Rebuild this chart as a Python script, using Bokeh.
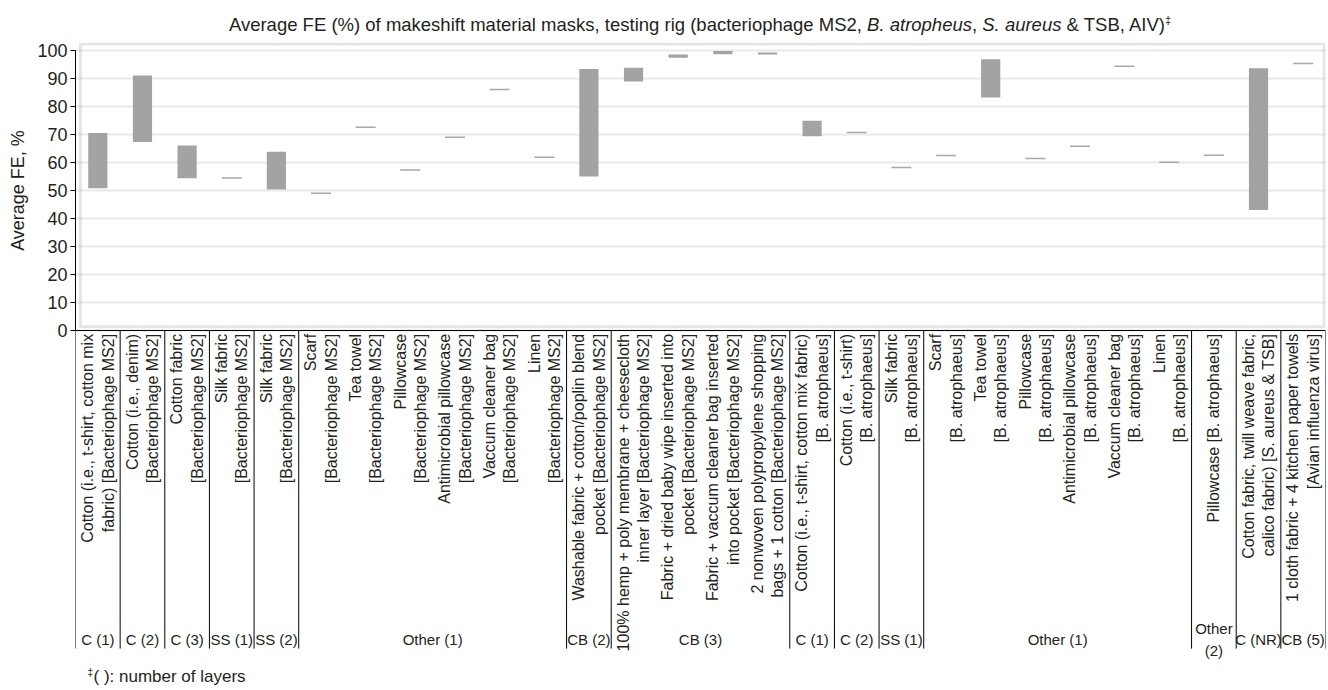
import math
from bokeh.plotting import figure
from bokeh.models import (FixedTicker, BoxAnnotation, Span, Div, ColumnDataSource,
                          Range1d)
from bokeh.layouts import column, row
from bokeh.embed import file_html
from bokeh.resources import INLINE
from bokeh.core.properties import value

# ---------------- data ----------------
labels = [
    "Cotton (i.e., t-shirt, cotton mix\nfabric) [Bacteriophage MS2]",
    "Cotton (i.e., denim)\n[Bacteriophage MS2]",
    "Cotton fabric\n[Bacteriophage MS2]",
    "Silk fabric\n[Bacteriophage MS2]",
    "Silk fabric\n[Bacteriophage MS2]",
    "Scarf\n[Bacteriophage MS2]",
    "Tea towel\n[Bacteriophage MS2]",
    "Pillowcase\n[Bacteriophage MS2]",
    "Antimicrobial pillowcase\n[Bacteriophage MS2]",
    "Vaccum cleaner bag\n[Bacteriophage MS2]",
    "Linen\n[Bacteriophage MS2]",
    "Washable fabric + cotton/poplin blend\npocket [Bacteriophage MS2]",
    "100% hemp + poly membrane + cheesecloth\ninner layer [Bacteriophage MS2]",
    "Fabric + dried baby wipe inserted into\npocket [Bacteriophage MS2]",
    "Fabric + vaccum cleaner bag inserted\ninto pocket [Bacteriophage MS2]",
    "2 nonwoven polypropylene shopping\nbags + 1 cotton [Bacteriophage MS2]",
    "Cotton (i.e., t-shirt, cotton mix fabric)\n[B. atrophaeus]",
    "Cotton (i.e., t-shirt)\n[B. atrophaeus]",
    "Silk fabric\n[B. atrophaeus]",
    "Scarf\n[B. atrophaeus]",
    "Tea towel\n[B. atrophaeus]",
    "Pillowcase\n[B. atrophaeus]",
    "Antimicrobial pillowcase\n[B. atrophaeus]",
    "Vaccum cleaner bag\n[B. atrophaeus]",
    "Linen\n[B. atrophaeus]",
    "Pillowcase [B. atrophaeus]",
    "Cotton fabric, twill weave fabric,\ncalico fabric) [S. aureus & TSB]",
    "1 cloth fabric + 4 kitchen paper towels\n[Avian influenza virus]",
]
fe_low = [50.8, 67.3, 54.4, 54.5, 50.4, 49.0, 72.6, 57.3, 69.0, 86.1, 61.9,
          55.0, 88.9, 97.4, 98.7, 98.6, 69.4, 70.7, 58.2, 62.5, 83.2, 61.4,
          65.8, 94.4, 60.1, 62.6, 43.0, 95.4]
fe_high = [70.5, 91.1, 66.1, 54.5, 63.8, 49.0, 72.6, 57.3, 69.0, 86.1, 61.9,
           93.4, 93.8, 98.6, 99.8, 99.3, 74.9, 70.7, 58.2, 62.5, 96.9, 61.4,
           65.8, 94.4, 60.1, 62.6, 93.7, 95.4]
group_names = ["C (1)", "C (2)", "C (3)", "SS (1)", "SS (2)", "Other (1)",
               "CB (2)", "CB (3)", "C (1)", "C (2)", "SS (1)", "Other (1)",
               "Other\n(2)", "C (NR)", "CB (5)"]
group_sizes = [1, 1, 1, 1, 1, 6, 1, 4, 1, 1, 1, 6, 1, 1, 1]
y_ticks = [0, 10, 20, 30, 40, 50, 60, 70, 80, 90, 100]

title_html = ('Average FE (%) of makeshift material masks, testing rig '
              '(bacteriophage MS2, <i>B. atropheus</i>, <i>S. aureus</i> '
              '&amp; TSB, AIV)<sup style="font-size:11px">&#8225;</sup>')
footnote_mark = "\u2021"
footnote_text = "( ): number of layers"
y_label = "Average FE, %"

# ---------------- style ----------------
FONT = "Liberation Sans"
TXT = "#231f20"
BAR = "#a3a3a3"
n = len(labels)

cat_x = [i + 0.5 for i in range(n)]
bar_idx = [i for i in range(n) if fe_high[i] > fe_low[i]]
dot_idx = [i for i in range(n) if fe_high[i] == fe_low[i]]

bars = ColumnDataSource(dict(x=[cat_x[i] for i in bar_idx],
                             lo=[fe_low[i] for i in bar_idx],
                             hi=[fe_high[i] for i in bar_idx]))
dots = ColumnDataSource(dict(x=[cat_x[i] for i in dot_idx],
                             y=[fe_low[i] for i in dot_idx]))

bounds = [0]
for s in group_sizes:
    bounds.append(bounds[-1] + s)
group_x = [(bounds[k] + bounds[k + 1]) / 2 for k in range(len(group_sizes))]

TITLE_H = 36
H = 654
LABEL_W = 30
MAIN_W = 1296
yr = Range1d(-128.57, 102.86)

p = figure(width=MAIN_W, height=H, x_range=Range1d(0, n),
           y_range=yr, output_backend="svg",
           toolbar_location=None, x_axis_location=None, title=None,
           min_border_left=45, min_border_right=1, min_border_top=6,
           min_border_bottom=0)
p.outline_line_color = None
p.background_fill_color = "white"
p.xgrid.visible = False

yax = p.yaxis[0]
yax.ticker = FixedTicker(ticks=y_ticks)
yax.bounds = (0, 100)
yax.axis_line_color = "black"
yax.major_tick_line_color = "black"
yax.major_tick_out = 5
yax.major_tick_in = 0
yax.minor_tick_line_color = None
yax.major_label_text_font = FONT
yax.major_label_text_font_size = "18px"
yax.major_label_text_color = TXT
yax.major_label_standoff = 3
p.ygrid.grid_line_color = "#e9e9e9"
p.ygrid.grid_line_width = 2

p.add_layout(Span(location=0, dimension="width", line_color="black", line_width=1))

p.vbar(x="x", bottom="lo", top="hi", width=0.43, source=bars,
       fill_color=BAR, line_color=None)
p.scatter(x="x", y="y", source=dots, marker="dash", size=20,
          line_color="#a8a8a8", line_width=1.5)

# frame around plotting area
p.add_layout(BoxAnnotation(left=0.11, right=n - 0.03, bottom=1.3, top=102.3,
                           fill_alpha=0, line_color="#a8a8a8", line_width=3))

# category labels
p.text(x=cat_x, y=[-1.2] * n, text=labels, angle=math.pi / 2,
       text_align="right", text_baseline="middle", text_font=value(FONT),
       text_font_size="16px", text_color=TXT, text_line_height=1.2)

# group separators and labels
p.segment(x0=bounds, y0=[0] * len(bounds), x1=bounds, y1=[-113.6] * len(bounds),
          line_color="black", line_width=1)
p.text(x=group_x, y=[-110.4] * len(group_x), text=group_names,
       text_align="center", text_baseline="middle", text_font=value(FONT),
       text_font_size="15px", text_color=TXT, text_line_height=1.3)

# footnote
p.text(x=[0], y=[-122.0], text=[footnote_mark], x_offset=12,
       text_align="left", text_baseline="middle", text_font=value(FONT),
       text_font_size="10px", text_color=TXT)
p.text(x=[0], y=[-123.6], text=[footnote_text], x_offset=18,
       text_align="left", text_baseline="middle", text_font=value(FONT),
       text_font_size="17px", text_color=TXT)

# y-axis title in a narrow strip that shares the y range
lab = figure(width=LABEL_W, height=H, x_range=Range1d(0, 1), y_range=yr,
             output_backend="svg", toolbar_location=None, title=None,
             x_axis_location=None, y_axis_location=None,
             min_border_left=0, min_border_right=0, min_border_top=6,
             min_border_bottom=0)
lab.outline_line_color = None
lab.xgrid.visible = False
lab.ygrid.visible = False
lab.text(x=[0.58], y=[50], text=[y_label], angle=math.pi / 2,
         text_align="center", text_baseline="middle", text_font=value(FONT),
         text_font_size="18px", text_color=TXT)

title = Div(text=('<div style="display:block;width:1250px;margin-left:75px;'
                  'text-align:center;font-family:\'Liberation Sans\';'
                  'font-size:18.5px;color:#231f20;line-height:22px;'
                  'padding-top:9px;white-space:nowrap">' + title_html + '</div>'),
            width=LABEL_W + MAIN_W, height=TITLE_H, margin=0)

layout = column(title, row(lab, p, spacing=0), spacing=0)
open("out.html", "w").write(file_html(layout, INLINE))
